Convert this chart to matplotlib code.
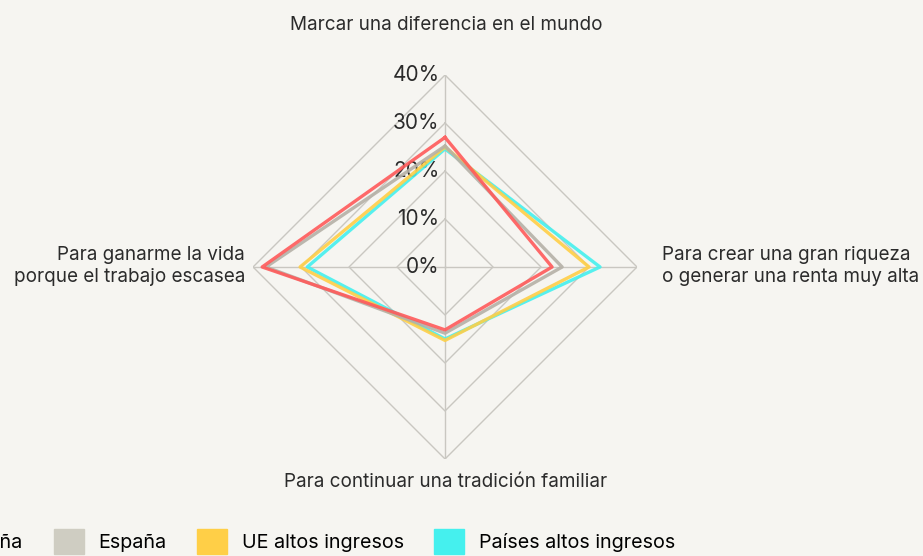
import numpy as np
import matplotlib.pyplot as plt
from matplotlib.patches import Patch

# categorías del radar (en orden horario desde arriba)
categorias = ['Marcar una diferencia en el mundo',
              'Para crear una gran riqueza\no generar una renta muy alta',
              'Para continuar una tradición familiar',
              'Para ganarme la vida\nporque el trabajo escasea']

series = ['Cataluña', 'España', 'UE altos ingresos', 'Países altos ingresos']
cataluna = [27.0, 22.3, 13.1, 38.1]
espana = [25.2, 24.4, 13.8, 37.3]
ue_altos = [25.0, 30.0, 15.3, 30.2]
paises_altos = [24.6, 32.3, 15.0, 28.7]

colores = ['#ff5a5a', '#b5b1a7', '#ffcf47', '#45f0ee']
colores_leyenda = ['#ff5a5a', '#cfcdc2', '#ffcf47', '#45f0ee']
niveles = [10, 20, 30, 40]
fondo = '#f6f5f1'

plt.rcParams['font.family'] = ['Inter', 'DejaVu Sans']

fig = plt.figure(figsize=(9.23, 5.56), dpi=100, facecolor=fondo)
ax = fig.add_axes([0.2741, 0.1745, 0.4161, 0.6906], projection='polar')
ax.set_facecolor(fondo)
ax.set_theta_zero_location('N')
ax.set_theta_direction(-1)
ax.set_ylim(0, 40)
ax.grid(False)
ax.spines['polar'].set_visible(False)
ax.set_xticks([])
ax.set_yticks([])

angulos = np.linspace(0, 2 * np.pi, len(categorias), endpoint=False)
cerrar = lambda v: list(v) + [v[0]]
ang_c = cerrar(angulos)

# rombos de la rejilla y radios
for n in niveles:
    ax.plot(ang_c, [n] * len(ang_c), color='#c9c7c1', lw=1, zorder=1)
for a in angulos:
    ax.plot([a, a], [0, 40], color='#c9c7c1', lw=1, zorder=1)

for n in [0] + niveles:
    ax.annotate(f'{n}%', xy=(0, n), xytext=(-4, 0), textcoords='offset points',
                ha='right', va='center', fontsize=15, color='#2b2b2b', zorder=2)

orden = [paises_altos, ue_altos, espana, cataluna]
cols = [colores[3], colores[2], colores[1], colores[0]]
for vals, c in zip(orden, cols):
    ax.plot(ang_c, cerrar(vals), color=c, lw=2.4, alpha=0.9, zorder=3)

# etiquetas de las categorías
estilo = dict(fontsize=13.6, color='#2b2b2b')
fig.text(446 / 923, 1 - 25 / 556, categorias[0], ha='center', va='center', **estilo)
fig.text(662 / 923, 1 - 266 / 556, categorias[1], ha='left', va='center',
         linespacing=1.25, **estilo)
fig.text(446 / 923, 1 - 482 / 556, categorias[2], ha='center', va='center', **estilo)
fig.text(245 / 923, 1 - 266 / 556, categorias[3], ha='right', va='center',
         linespacing=1.25, multialignment='right', **estilo)

# leyenda (el primer elemento queda cortado por el borde izquierdo)
handles = [Patch(color=c, label=s) for c, s in zip(colores_leyenda, series)]
fig.legend(handles=handles, ncol=4, loc='upper left',
           bbox_to_anchor=(-103 / 923, 1 - 529 / 556), frameon=False,
           fontsize=14.2, handlelength=1.5, handleheight=1.6,
           handletextpad=0.75, columnspacing=1.55, borderpad=0, borderaxespad=0)

plt.savefig('out.png', dpi=100, facecolor=fondo)
